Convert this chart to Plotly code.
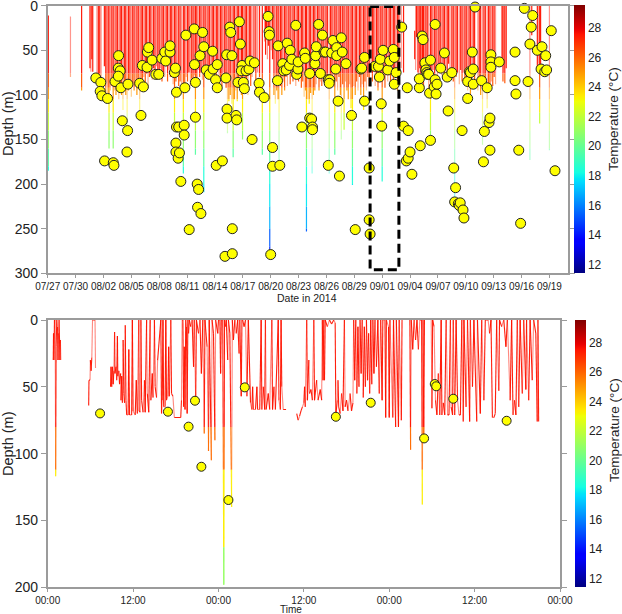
import plotly.graph_objects as go
import plotly.colors as pc
import pandas as pd

# ------------------------------------------------------------------ data
# Top panel: dives (day offset from 2014-07-27, maximum depth in m)
dive_day = [
    0.07, 2.45, 3.65, 4.55, 4.65, 4.75, 4.85, 5.30, 5.45, 5.60, 5.75, 6.10, 6.25, 6.35, 6.50, 6.60, 6.75, 6.90,
    7.05, 7.20, 7.35, 7.50, 7.65, 7.80, 7.95, 8.10, 8.25, 8.40,
    8.55, 8.70, 8.85, 9.00, 9.15, 9.30, 9.45, 9.60, 9.75, 9.90,
    10.05, 10.20, 10.35, 10.50, 10.65, 10.80, 10.95, 11.10, 11.25, 11.40,
    11.55, 11.70, 11.85, 12.00, 12.15, 12.30, 12.45, 12.60, 12.75, 12.90,
    13.05, 13.20, 13.35, 13.50, 13.65, 13.80, 13.95, 14.10, 14.25, 14.40,
    14.60, 14.75, 14.90, 15.05, 15.20, 15.35, 15.50, 15.65, 15.80, 15.90,
    16.05, 16.20, 16.35, 16.50, 16.65, 16.80, 16.95, 17.10, 17.25, 17.40,
    17.55, 17.70, 17.85, 18.00, 18.15, 18.30, 18.45, 18.60, 18.75, 18.90,
    19.05, 19.20, 19.35, 19.50, 19.65, 19.80, 19.96, 20.10, 20.25, 20.40,
    20.55, 20.70, 20.85, 20.97, 21.10, 21.25, 21.40, 21.55, 21.70, 21.85,
    22.00, 22.20, 22.40, 22.60, 22.80, 23.10, 23.35, 23.45, 23.55, 23.65,
    23.75, 23.90, 24.05, 24.20, 24.35, 24.50, 24.65, 24.80, 24.90, 25.05,
    25.20, 25.35, 25.50, 25.65, 25.80, 25.95, 26.10, 26.25, 26.40, 26.55,
    26.70, 26.85, 27.00, 27.15, 27.30, 27.45, 27.60, 27.75, 27.85, 28.00,
    28.15, 28.30, 28.46, 28.60, 28.75, 28.90,
    29.05, 29.20, 29.35, 29.50, 29.65, 29.80, 29.95, 30.10, 30.30, 30.45,
    30.60, 30.75, 30.90, 31.05, 31.20, 31.35, 31.50, 31.60, 31.75, 31.90,
    32.05, 32.20, 32.35, 32.50, 32.65, 32.80, 32.95, 33.10, 33.25, 33.40,
    33.55, 33.70, 33.85, 34.00, 34.15, 34.30, 34.45, 34.60, 34.80, 34.95,
    35.10, 35.25, 35.40, 35.55, 35.70, 35.85, 36.00, 36.15, 36.30, 36.45,
    36.60, 36.75, 36.90, 37.05, 37.20, 37.35, 37.50, 37.65, 37.80, 38.05, 38.30,
    39.50, 39.60, 39.70, 39.85, 39.95, 40.05, 40.15, 40.25, 40.35, 40.45,
    40.55, 40.70, 40.85, 41.00, 41.20, 41.35, 41.50, 41.65, 41.80, 41.95,
    42.10, 42.25, 42.40, 42.55, 42.70, 42.85, 43.00, 43.15, 43.30, 43.50,
    43.65, 43.80, 43.95, 44.10, 44.30, 44.45, 44.60, 44.75, 44.90, 45.05,
    45.20, 45.35, 45.50, 45.65, 45.80, 45.95, 46.30, 46.45, 46.60, 46.80,
    46.95, 47.10, 47.30, 47.45, 47.60, 47.75, 47.90, 48.05, 48.20,
    48.90, 49.00, 49.10, 49.20, 49.35, 51.90, 52.10, 52.70, 52.80, 52.95, 53.05, 54.00,
]
dive_depth = [
    185, 80, 95, 70, 74, 60, 74, 83, 88, 80, 85, 68, 102, 85, 100, 160, 95, 90,
    160, 95, 100, 90, 105, 95, 100, 117, 92, 100,
    139, 95, 90, 102, 87, 95, 90, 100, 88, 122,
    85, 91, 80, 88, 76, 90, 80, 75, 83, 70,
    80, 68, 78, 82, 70, 85, 75, 80, 68, 85,
    72, 80, 75, 88, 135, 85, 80, 90, 85, 88,
    188, 90, 80, 85, 75, 90, 82, 88, 78, 167,
    85, 72, 80, 75, 83, 209, 70, 78, 68, 80,
    75, 70, 83, 65, 78, 72, 85, 80, 90, 75,
    85, 92, 143, 107, 100, 110, 170, 105, 95, 107,
    90, 85, 100, 150, 80, 95, 85, 100, 78, 90,
    80, 70, 100, 75, 80, 167, 40, 55, 35, 60,
    45, 282, 50, 60, 100, 110, 95, 105, 180, 90,
    100, 85, 95, 80, 90, 75, 88, 80, 85, 72,
    90, 78, 85, 80, 92, 85, 102, 95, 253, 105,
    110, 98, 188, 100, 95, 88,
    80, 95, 85, 90, 78, 88, 82, 85, 188, 80,
    88, 78, 167, 85, 95, 80, 100, 150, 88, 139,
    85, 95, 105, 88, 115, 201, 90, 100, 85, 95,
    80, 100, 88, 117, 85, 95, 80, 90, 75, 85,
    70, 90, 80, 95, 75, 85, 197, 80, 92, 70,
    85, 78, 90, 72, 85, 70, 80, 95, 75, 70, 75,
    60, 72, 35, 75, 90, 70, 98, 80, 72, 95,
    68, 75, 80, 95, 150, 85, 72, 80, 70, 85,
    75, 68, 78, 65, 80, 70, 82, 65, 75, 70,
    85, 226, 80, 75, 88, 72, 85, 75, 90, 80,
    95, 78, 106, 85, 75, 90, 95, 88, 100, 156,
    90, 85, 115, 95, 88, 85, 90, 80, 88,
    68, 85, 75, 87, 70, 173, 33, 70, 65, 132, 72, 162,
]
# dives that start below the surface (day -> start depth)
dive_start_day = [0.07, 2.45, 39.50]
dive_start_depth = [11, 12, 28]

# yellow points, top panel
pt_day = [
    5.18, 5.72, 5.65, 5.83, 6.44, 6.12, 7.06, 7.13, 7.24, 7.63, 7.60, 7.80, 7.60, 7.88, 8.03, 8.64, 8.60, 8.53,
    9.90, 10.30, 10.04, 10.19, 10.69, 10.73, 10.87, 11.23, 11.63, 11.95, 12.28, 12.60, 12.70, 13.17, 13.17,
    13.64, 13.75, 13.86, 13.86, 14.10, 13.80, 13.80, 14.04, 14.18, 14.33, 14.69, 14.69, 14.76, 14.87, 15.23,
    15.77, 15.80, 15.90, 15.90, 16.09, 16.24, 16.13, 16.49, 16.40, 16.67, 16.80, 17.06, 17.40, 17.75, 17.80,
    18.07, 18.25, 18.25, 18.14, 18.80, 19.08, 19.18, 19.26, 19.30, 19.30, 19.60, 19.70, 19.83, 19.87, 19.87,
    20.27, 20.34, 20.48, 20.63, 20.74, 20.92, 20.84, 21.06, 21.17, 21.35, 21.67, 21.78, 22.00, 22.25, 22.75,
    22.79, 23.30, 23.72, 23.83, 23.87, 24.00, 24.20, 24.20, 24.73, 24.80, 24.98, 25.30, 25.40, 25.67, 25.78,
    26.10, 26.03, 26.28, 26.70, 26.80, 26.93, 26.96, 27.36, 27.65, 27.72, 28.20, 28.20, 28.40, 28.50, 28.50,
    28.76, 28.83, 28.90, 29.16,
    29.35, 29.57, 29.75, 29.90, 30.20, 30.20, 30.36, 30.30, 30.57, 30.70, 31.00, 31.10, 31.10, 31.26, 31.40,
    31.60, 31.70, 32.10, 32.70, 33.10, 33.70, 33.80, 34.10, 34.10, 34.60, 34.60, 34.70, 35.20, 35.60, 35.70,
    35.80, 35.90, 35.95, 36.10, 36.60, 36.80, 37.20, 37.30, 37.30, 37.50, 38.10, 38.30, 38.80, 38.60, 38.80,
    39.00, 39.20, 38.70, 40.00, 40.00, 40.10, 40.30, 40.40, 40.60, 40.70, 40.80, 40.90, 41.00, 41.10, 41.20,
    41.20, 41.60, 41.70, 41.70, 41.80, 41.90, 42.30, 42.70, 43.00, 43.10, 43.50, 43.70, 43.90, 43.80, 44.20,
    44.30, 44.40, 44.70, 44.80, 44.60, 45.20, 45.20, 45.40, 45.50, 45.70, 45.80, 45.80, 46.00, 46.70, 46.90,
    47.00, 47.30, 47.50, 47.60, 47.60, 47.70, 47.70, 47.70, 48.60, 50.30, 50.30, 50.40, 50.70, 50.90, 51.30,
    51.70, 51.90, 52.04, 52.20, 52.70, 53.20, 53.10, 53.60, 53.50, 53.70, 54.20, 54.60,
]
pt_depth = [
    81, 86, 96, 101, 104, 174, 176, 179, 85, 56, 70, 73, 79, 92, 129, 88, 140, 164,
    87, 91, 123, 67, 69, 52, 47, 61, 77, 77, 59, 52, 62, 52, 45,
    75, 70, 97, 136, 136, 154, 164, 171, 165, 197, 134, 145, 92, 33, 251,
    26, 66, 86, 125, 200, 206, 226, 233, 56, 30, 46, 72, 77, 51, 71,
    83, 66, 92, 179, 174, 281, 81, 55, 116, 126, 24, 30, 56, 250, 278,
    123, 128, 86, 18, 43, 67, 73, 86, 93, 73, 71, 62, 150, 64, 87,
    97, 103, 12, 29, 33, 279, 159, 180, 84, 45, 179, 65, 73, 72, 42,
    50, 67, 60, 22, 77, 71, 63, 136, 53, 59, 76, 126, 127, 136, 139,
    65, 56, 46, 21,
    76, 33, 52, 52, 179, 83, 83, 87, 53, 39, 71, 47, 56, 107, 191,
    36, 52, 65, 123, 251, 71, 70, 58, 107, 182, 240, 256, 68, 68, 80,
    60, 110, 135, 50, 72, 62, 49, 88, 58, 75, 24, 135, 140, 174, 171,
    164, 189, 92, 92, 82, 157, 34, 38, 64, 72, 75, 77, 77, 98, 151,
    61, 91, 83, 21, 99, 88, 70, 53, 80, 118, 75, 182, 204, 220, 222,
    224, 221, 229, 238, 140, 85, 104, 74, 75, 52, 71, 88, 1.5, 84, 175,
    141, 92, 131, 126, 162, 55, 63, 69, 63, 52, 84, 99, 162, 244, 3,
    85, 43, 24, 11, 50, 46, 71, 56, 74, 72, 28, 185,
]

# Bottom panel: depth trace (hours from 00:00 of the first day; None = gap)
prof_hour = [
    0.78, 0.82, 0.88, 0.95, 1.05, 1.12, 1.18, 1.28, 1.38, 1.45, 1.5, 1.6, 1.72, 1.78, 1.85, None,
    5.76, 5.8, 5.95, 6.0, 6.1, 6.2, 6.3, 6.5, 6.65, 6.72, None,
    8.83, 8.9, 9.0, 9.1, 9.2, 9.3, 9.4, 9.45, 9.6, 9.7, 9.8, 9.85, 10.0, 10.1, 10.25, 10.3, 10.4, 10.5, 10.6, 10.7,
    10.8, 10.9, 11.0, 11.1, 11.3, 11.4, 11.5, 11.8, 11.9, 12.0, 12.3, 12.45, 12.6, 12.8, 12.85, 13.0, 13.1, 13.2,
    13.4, 13.6, 13.7, 13.9, 14.0, 14.2, 14.4, 14.5, 14.7, 14.8, 15.0, 15.1, 15.3, 15.45,
    15.9, 16.0, 16.1, 16.2, 16.3, 16.5, 16.6, 16.7, 16.9, 17.0, 17.1, 17.3, 17.4, 17.6, 17.8, 18.7, 18.8, 18.9,
    19.0, 19.1, 19.2, 19.3, 19.4, 19.5, 19.6,
    19.7, 19.8, 19.9, 20.1, 20.3, 20.5, 20.6, 20.8, 20.9, 21.2, 21.4, 21.6, 21.8, 22.0, 22.1, 22.4, 22.6, 22.7,
    23.0, 23.1, 23.3, 23.5, 23.6, 23.9, 24.0,
    24.2, 24.3, 24.4, 24.6, 24.75, 24.85, 25.0, 25.1, 25.3, 25.4, 25.6, 25.85, 25.95, 26.1, 26.3, 26.5, 26.7,
    26.9, 27.0, 27.2, 27.3,
    27.4, 27.6, 27.8, 28.0, 28.2, 28.5, 28.7, 28.8, 28.9, 29.2, 29.4, 29.5, 29.8, 30.0, 30.1, 30.3, 30.5, 30.6,
    30.7, 31.0, 31.2, 31.5, 31.6, 31.8, 32.0, 32.4, 32.5, 32.7, 32.8, 32.9, 33.1, 33.5, None,
    35.0, 35.2, 35.4, 35.6, 35.8, 36.0, 36.1, 36.2, 36.4, 36.5, 36.7, 36.8, 37.0, 37.2, 37.4, 37.5, 37.8, 38.0,
    38.3, 38.5, 38.6, 38.7, 38.8, 38.9, 39.0, 39.3, 39.6, 39.9, 40.2, 40.4, 40.5, 40.7, 40.8, 40.9, 41.1, 41.3,
    41.5, 41.7, 41.8, 42.0, 42.2, 42.5, 42.7, 42.9,
    43.0, 43.15, 43.3, 43.45, 43.6, 43.75, 43.9, 44.05, 44.2, 44.35, 44.5, 44.65, 44.8, 44.95, 45.1, 45.25,
    45.4, 45.55, 45.7, 45.85, 46.0, 46.2, 46.4, 46.6, 46.8, 47.0, 47.1,
    47.4, 47.5, 47.6, 47.9, 48.0, 48.1, 48.5, 48.6, 48.9, 49.0, 49.3, 49.4, 49.7, 49.8, None,
    50.9, 51.0, 51.1, 51.3, 51.5, 51.7, 51.9, 52.1, 52.3, 52.55, 52.65, 52.75, 52.85, 52.95, None,
    53.9, 54.0, 54.1, 54.3, 54.5, 54.7, 54.9, 55.1, 55.3, 55.4, 55.6, 55.8, 56.0, 56.2, 56.4, 56.6, 56.7, 56.9,
    57.0, 57.2, 57.4, 57.6, 57.8, 58.0, 58.2, 58.4, 58.5, 58.8, 59.0, 59.3, 59.4, 59.7, 59.9, 60.3, 60.4, 60.8,
    61.0, 61.3, 61.5,
    61.9, 62.1, 62.3, 62.5, 62.7, 62.9, 63.1, 63.4, 63.5, 63.8, 64.1, 64.4, 64.6, 65.0, 65.2, 65.4, 65.6, 65.8,
    66.0, 66.2, 66.4, 66.7, 66.9, 67.2, 67.3, 67.6, 67.8, 68.1, 68.3, 68.6, 68.8, 68.9, 69.0,
]
prof_depth = [
    30, 10, 30, 0, 0, 117, 20, 0, 5, 30, 10, 0, 30, 15, 30, None,
    64, 45, 45, 30, 38, 28, 0, 0, 0, 36, None,
    50, 35, 50, 35, 48, 38, 9, 40, 35, 45, 12, 42, 38, 48, 40, 60, 42, 62, 15, 55,
    62, 4, 60, 71, 71, 22, 71, 71, 0, 68, 71, 45, 70, 0, 68, 69, 0, 60,
    69, 45, 69, 0, 55, 69, 0, 60, 40, 58, 0, 50, 58, 30,
    0, 70, 60, 0, 65, 65, 0, 60, 57, 20, 57, 0, 55, 57, 73, 73, 60, 0,
    0, 65, 20, 67, 0, 5, 70,
    0, 10, 0, 5, 0, 35, 0, 60, 0, 10, 0, 40, 0, 85, 0, 20, 98, 0,
    105, 0, 10, 90, 0, 10, 0,
    0, 40, 0, 0, 198, 0, 5, 0, 30, 0, 10, 140, 0, 15, 0, 10, 0,
    25, 0, 57, 0,
    0, 5, 0, 57, 0, 62, 67, 50, 67, 67, 50, 67, 67, 0, 67, 50, 67, 0,
    67, 55, 67, 0, 67, 50, 67, 0, 60, 67, 0, 50, 67, 67, None,
    70, 75, 72, 68, 65, 62, 50, 65, 0, 60, 30, 55, 52, 60, 0, 60, 45, 60,
    52, 60, 0, 45, 0, 45, 0, 5, 0, 3, 0, 2, 71, 60, 45, 65, 70, 55,
    68, 0, 65, 60, 68, 55, 68, 62,
    0, 45, 0, 55, 5, 50, 0, 40, 0, 58, 5, 50, 0, 45, 10, 55,
    0, 48, 0, 40, 0, 35, 0, 55, 0, 60, 0,
    0, 73, 0, 5, 73, 0, 73, 0, 80, 0, 80, 0, 75, 0, None,
    0, 97, 0, 22, 0, 15, 0, 22, 0, 0, 138, 0, 88, 0, None,
    0, 66, 0, 5, 60, 71, 40, 71, 0, 71, 62, 71, 0, 71, 71, 0, 65, 71,
    0, 71, 0, 60, 71, 71, 0, 76, 0, 65, 0, 76, 0, 50, 0, 76, 0, 70,
    0, 60, 0,
    0, 10, 0, 73, 73, 70, 0, 53, 0, 5, 0, 20, 0, 60, 0, 71, 60, 71,
    0, 65, 0, 55, 0, 52, 0, 60, 0, 45, 0, 10, 76, 0, 76,
]

# yellow points, bottom panel
bpt_hour = [7.36, 16.9, 19.8, 20.7, 21.6, 25.4, 27.7, 40.5, 45.4, 52.9, 54.4, 54.6, 57.0, 64.5]
bpt_depth = [69.9, 68.6, 79.8, 60.4, 109.8, 134.7, 50.4, 72.4, 61.9, 88.6, 47.9, 49.6, 58.9, 75.4]

# water temperature layers (depth bounds in m, temperature in degC)
top_layer_bounds = [0, 76, 92, 105, 120, 140, 160, 180, 200, 225, 250, 270, 300]
top_layer_temp = [27.5, 26.3, 25.0, 23.3, 22.0, 20.8, 19.6, 18.4, 17.8, 16.8, 15.3, 14.3]
bot_layer_bounds = [0, 80, 112, 170, 200]
bot_layer_temp = [27.5, 25.8, 23.3, 21.0]

colorbar_ticks = [12, 14, 16, 18, 20, 22, 24, 26, 28]
x_ticks_top_start = "2014-07-27"
top_base = pd.Timestamp("2014-07-27")
bot_base = pd.Timestamp("2014-08-31")
box_day = (34.7, 37.8)
box_depth = 296

# ------------------------------------------------------------------ style
CMIN, CMAX = 11.4, 29.5
JET = [[0.0, 'rgb(0,0,128)'], [0.11, 'rgb(0,0,255)'], [0.125, 'rgb(0,0,255)'],
       [0.34, 'rgb(0,219,255)'], [0.35, 'rgb(0,229,247)'], [0.375, 'rgb(21,255,226)'],
       [0.64, 'rgb(239,255,8)'], [0.65, 'rgb(247,245,0)'], [0.66, 'rgb(255,236,0)'],
       [0.89, 'rgb(255,19,0)'], [0.91, 'rgb(232,0,0)'], [1.0, 'rgb(128,0,0)']]
FONT = "Liberation Sans, Arial, sans-serif"
AXC = "#9b9b9b"
W, H = 622, 614


def temp_rgba(t, alpha):
    frac = (t - CMIN) / (CMAX - CMIN)
    c = pc.sample_colorscale(JET, [frac])[0]
    r, g, b = pc.unlabel_rgb(c)
    return f"rgba({int(round(r))},{int(round(g))},{int(round(b))},{alpha})"


def clip_into_layers(x0, y0, x1, y1, bounds, buckets, grp):
    """Split the segment (x0,y0)-(x1,y1) into the depth layers."""
    nl = len(bounds) - 1
    if y0 == y1:
        for k in range(nl):
            if bounds[k] <= y0 < bounds[k + 1] or (k == nl - 1 and y0 >= bounds[k]):
                bx, by = buckets[(k, grp)]
                bx += [x0, x1, None]
                by += [y0, y1, None]
                return
        return
    ylo, yhi = min(y0, y1), max(y0, y1)
    for k in range(nl):
        lo = max(ylo, bounds[k])
        hi = min(yhi, bounds[k + 1])
        if hi <= lo:
            continue
        ta = (lo - y0) / (y1 - y0)
        tb = (hi - y0) / (y1 - y0)
        bx, by = buckets[(k, grp)]
        bx += [x0 + ta * (x1 - x0), x0 + tb * (x1 - x0), None]
        by += [lo, hi, None]


def to_dates(vals, base, unit):
    out = []
    for v in vals:
        if v is None:
            out.append(None)
        else:
            out.append((base + pd.to_timedelta(v, unit=unit)).strftime('%Y-%m-%d %H:%M:%S'))
    return out


fig = go.Figure()

# ---------------- top panel lines
start_map = dict(zip(dive_start_day, dive_start_depth))
nl_top = len(top_layer_temp)
top_buckets = {(k, g): ([], []) for k in range(nl_top) for g in (0, 1)}
for i, (d, dep) in enumerate(zip(dive_day, dive_depth)):
    top = start_map.get(d, 0)
    grp = 1 if i % 3 == 1 else 0
    clip_into_layers(d, top, d, dep, top_layer_bounds, top_buckets, grp)

for (k, g), (bx, by) in top_buckets.items():
    if not bx:
        continue
    alpha = 0.45 if g == 1 else 0.95
    fig.add_trace(go.Scatter(
        x=to_dates(bx, top_base, 'D'), y=by, mode='lines',
        line=dict(color=temp_rgba(top_layer_temp[k], alpha), width=1.2),
        xaxis='x', yaxis='y', hoverinfo='skip', showlegend=False))

fig.add_trace(go.Scatter(
    x=to_dates(pt_day, top_base, 'D'), y=pt_depth, mode='markers',
    marker=dict(size=10, color='#ffff00', line=dict(color='#222222', width=1)),
    xaxis='x', yaxis='y', cliponaxis=False, hoverinfo='skip', showlegend=False))

# ---------------- bottom panel lines
nl_bot = len(bot_layer_temp)
bot_buckets = {(k, g): ([], []) for k in range(nl_bot) for g in (0, 1)}
seg = 0
for i in range(len(prof_hour) - 1):
    h0, d0, h1, d1 = prof_hour[i], prof_depth[i], prof_hour[i + 1], prof_depth[i + 1]
    if h0 is None or h1 is None:
        continue
    grp = 1 if seg % 3 == 1 else 0
    seg += 1
    clip_into_layers(h0, d0, h1, d1, bot_layer_bounds, bot_buckets, grp)

for (k, g), (bx, by) in bot_buckets.items():
    if not bx:
        continue
    alpha = 0.5 if g == 1 else 0.95
    fig.add_trace(go.Scatter(
        x=to_dates(bx, bot_base, 'h'), y=by, mode='lines',
        line=dict(color=temp_rgba(bot_layer_temp[k], alpha), width=1.1),
        xaxis='x2', yaxis='y2', hoverinfo='skip', showlegend=False))

fig.add_trace(go.Scatter(
    x=to_dates(bpt_hour, bot_base, 'h'), y=bpt_depth, mode='markers',
    marker=dict(size=9, color='#ffff00', line=dict(color='#222222', width=1)),
    xaxis='x2', yaxis='y2', cliponaxis=False, hoverinfo='skip', showlegend=False))

# ---------------- colour bars (dummy traces)
def cbar_trace(xa, ya, x_px, y_top, y_bot):
    return go.Scatter(
        x=[None], y=[None], mode='markers', xaxis=xa, yaxis=ya, showlegend=False, hoverinfo='skip',
        marker=dict(color=[20], colorscale=JET, cmin=CMIN, cmax=CMAX, showscale=True,
                    colorbar=dict(x=x_px / W, xanchor='left', xpad=0, ypad=0,
                                  y=1 - (y_top + y_bot) / 2 / H, yanchor='middle',
                                  len=(y_bot - y_top) / H, lenmode='fraction',
                                  thickness=11, outlinewidth=0, ticks='',
                                  tickvals=colorbar_ticks,
                                  tickfont=dict(size=12, family=FONT, color='#222'))))

fig.add_trace(cbar_trace('x', 'y', 574, 5.7, 273.3))
fig.add_trace(cbar_trace('x2', 'y2', 575, 320.5, 587.3))

# ---------------- axes
common_x = dict(showline=True, linecolor=AXC, linewidth=1.5, mirror=True, ticks='outside',
                ticklen=3, tickcolor=AXC, showgrid=False, zeroline=False, automargin=False,
                tickangle=0, ticklabeloverflow='allow',
                tickfont=dict(size=10, family=FONT, color='#222'))
common_y = dict(showline=True, linecolor=AXC, linewidth=1.5, mirror='ticks', ticks='outside',
                ticklen=5, tickcolor=AXC, showgrid=False, zeroline=False, dtick=50, tick0=0,
                automargin=False, ticklabeloverflow='allow',
                tickfont=dict(size=14, family=FONT, color='#222'))

fig.update_layout(
    width=W, height=H, margin=dict(l=0, r=0, t=0, b=0, autoexpand=False),
    paper_bgcolor='white', plot_bgcolor='white',
    font=dict(family=FONT, color='#222'),
    xaxis=dict(domain=[47.7 / W, 568 / W], anchor='y', type='date',
               range=[top_base.strftime('%Y-%m-%d'), (top_base + pd.Timedelta(days=56)).strftime('%Y-%m-%d')],
               tickformat='%m/%d', tick0=x_ticks_top_start, dtick=3 * 86400000, **common_x),
    yaxis=dict(domain=[1 - 273.3 / H, 1 - 5.7 / H], anchor='x', range=[300, 0], **common_y),
    xaxis2=dict(domain=[47.7 / W, 560 / W], anchor='y2', type='date',
                range=[bot_base.strftime('%Y-%m-%d'), (bot_base + pd.Timedelta(days=3)).strftime('%Y-%m-%d')],
                tickformat='%H:%M', tick0=bot_base.strftime('%Y-%m-%d'), dtick=12 * 3600000, **common_x),
    yaxis2=dict(domain=[1 - 587.3 / H, 1 - 320 / H], anchor='x2', range=[200, 0], **common_y),
)

# dashed box marking the zoomed period
fig.add_shape(type='rect', xref='x', yref='y',
              x0=to_dates([box_day[0]], top_base, 'D')[0], x1=to_dates([box_day[1]], top_base, 'D')[0],
              y0=1, y1=box_depth, line=dict(color='black', width=3, dash='9px,5px'),
              fillcolor='rgba(0,0,0,0)')

# axis titles
def ann(text, x, y, size, angle=0):
    fig.add_annotation(text=text, x=x / W, y=1 - y / H, xref='paper', yref='paper',
                       showarrow=False, textangle=angle, xanchor='center', yanchor='middle',
                       font=dict(size=size, family=FONT, color='#222'))

ann('Depth (m)', 8, 124, 14.5, -90)
ann('Depth (m)', 8, 444, 14.5, -90)
ann('Date in 2014', 307, 298, 10.5)
ann('Time', 291, 609.5, 10)
ann('Temperature (°C)', 614, 119, 13.5, -90)
ann('Temperature (°C)', 614, 430, 13.5, -90)

fig.write_html('out.html', config={'displayModeBar': False},
               post_script="document.body.style.margin='0';document.body.style.padding='0';")
